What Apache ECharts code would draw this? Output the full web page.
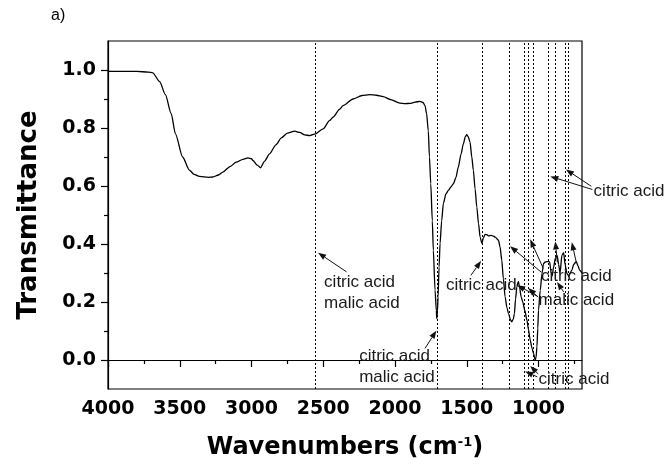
<!DOCTYPE html>
<html><head><meta charset="utf-8">
<script src="https://cdn.jsdelivr.net/npm/echarts@6/dist/echarts.min.js"></script>
<style>html,body{margin:0;padding:0;background:#fff}#c{width:664px;height:472px}</style>
</head><body><div id="c"></div>
<script>
// ---- data ----
const wavenumbers = [4000,3800,3720,3688,3640,3600,3560,3530,3480,3433,3400,3363,3300,3270,3230,3200,3150,3106,3060,3025,3000,2990,2960,2937,2910,2874,2830,2792,2750,2699,2665,2629,2594,2554,2501,2455,2432,2385,2362,2292,2230,2176,2130,2082,2030,1966,1930,1896,1860,1826,1805,1791,1780,1768,1760,1751,1740,1733,1721,1712,1709,1704,1700,1693,1686,1675,1663,1645,1628,1610,1593,1575,1559,1540,1524,1510,1500,1490,1477,1465,1454,1442,1430,1418,1407,1395,1385,1372,1360,1349,1330,1314,1302,1279,1268,1256,1245,1233,1220,1209,1195,1186,1175,1168,1160,1151,1145,1140,1132,1121,1110,1095,1081,1070,1058,1045,1035,1023,1017,1011,1005,1000,988,976,965,953,941,930,923,911,905,895,883,870,860,850,837,825,815,802,790,767,755,737,725,714,697];
const transmittance = [0.995,0.995,0.993,0.99,0.96,0.915,0.85,0.78,0.70,0.655,0.64,0.633,0.63,0.631,0.638,0.648,0.667,0.682,0.692,0.697,0.694,0.688,0.672,0.663,0.685,0.711,0.742,0.766,0.782,0.789,0.785,0.776,0.774,0.78,0.797,0.826,0.837,0.865,0.877,0.900,0.912,0.915,0.913,0.908,0.898,0.886,0.884,0.885,0.889,0.892,0.888,0.877,0.85,0.79,0.70,0.608,0.48,0.378,0.241,0.17,0.143,0.17,0.218,0.32,0.402,0.48,0.54,0.573,0.585,0.597,0.608,0.63,0.665,0.71,0.745,0.77,0.777,0.77,0.751,0.70,0.654,0.59,0.527,0.47,0.424,0.402,0.42,0.433,0.432,0.428,0.43,0.427,0.424,0.413,0.39,0.344,0.28,0.218,0.18,0.160,0.138,0.132,0.142,0.160,0.21,0.252,0.265,0.27,0.25,0.218,0.2,0.17,0.138,0.105,0.069,0.04,0.023,0.0,0.01,0.046,0.11,0.172,0.24,0.298,0.333,0.338,0.339,0.34,0.338,0.298,0.29,0.32,0.35,0.36,0.33,0.30,0.361,0.37,0.33,0.298,0.29,0.31,0.33,0.339,0.325,0.31,0.30];
const xTickLabels = [4000,3500,3000,2500,2000,1500,1000];
const xMinorTicks = [3750,3250,2750,2250,1750,1250,750];
const yTickLabels = [0,0.2,0.4,0.6,0.8,1.0];
const yMinorTicks = [0.1,0.3,0.5,0.7,0.9];
const bandPositions = [2554,1709,1395,1203,1100,1070,1039,930,885,814,790];
// annotation texts: [wavenumber (left edge), transmittance (middle), text]
const annotationTexts = [
  [2494,0.269,'citric acid'],[2494,0.197,'malic acid'],
  [2250,0.011,'citric acid'],[2250,-0.061,'malic acid'],
  [1645,0.258,'citric acid'],
  [616,0.582,'citric acid'],
  [983,0.287,'citric acid'],[1000,0.206,'malic acid'],
  [1000,-0.066,'citric acid']
];
// annotation arrows: [tail w, tail v, head w, head v]
const annotationArrows = [
  [2338,0.304,2536,0.370],
  [1791,0.040,1712,0.101],
  [1471,0.292,1400,0.342],
  [625,0.588,918,0.633],[632,0.599,809,0.657],
  [981,0.303,1198,0.392],[967,0.316,1058,0.416],[869,0.337,883,0.409],[737,0.337,768,0.406],
  [1009,0.220,1149,0.258],[1002,0.217,1072,0.248],[825,0.235,871,0.269],
  [1009,-0.058,1093,-0.040],[1002,-0.048,1058,-0.021]
];

const X_MIN = 697, X_MAX = 4000, Y_MIN = -0.1, Y_MAX = 1.1;
const labelFont = 'DejaVu Sans';
const chart = echarts.init(document.getElementById('c'), null, {renderer:'canvas'});
const seriesData = wavenumbers.map((w,i)=>[w, transmittance[i]]);

const baseX = {type:'value', min:X_MIN, max:X_MAX, inverse:true, position:'bottom', splitLine:{show:false}};
const baseY = {type:'value', min:Y_MIN, max:Y_MAX, position:'left', splitLine:{show:false}};

chart.setOption({
  animation:false,
  backgroundColor:'#fff',
  grid:{left:108, right:82, top:41, bottom:83, show:true, borderColor:'#000', borderWidth:1.2, containLabel:false},
  xAxis:[
    Object.assign({}, baseX, {
      axisLine:{show:true, lineStyle:{color:'#000', width:1.2}},
      axisTick:{show:true, inside:false, length:7, customValues:xTickLabels, lineStyle:{color:'#000', width:1.2}},
      axisLabel:{show:true, customValues:xTickLabels, margin:11, color:'#000', fontFamily:labelFont, fontWeight:'bold', fontSize:19,
        formatter:v=>String(Math.round(v))},
      name:'{a|Wavenumbers (cm}{s|-1}{a|)}', nameLocation:'middle', nameGap:47,
      nameTextStyle:{color:'#000', rich:{
        a:{fontFamily:labelFont, fontWeight:'bold', fontSize:24, color:'#000'},
        s:{fontFamily:labelFont, fontWeight:'bold', fontSize:13, color:'#000', verticalAlign:'top'}
      }}
    }),
    Object.assign({}, baseX, {
      axisLine:{show:false},
      axisTick:{show:true, inside:false, length:4, customValues:xMinorTicks, lineStyle:{color:'#000', width:1.2}},
      axisLabel:{show:false}
    })
  ],
  yAxis:[
    Object.assign({}, baseY, {
      axisLine:{show:true, lineStyle:{color:'#000', width:1.2}},
      axisTick:{show:true, inside:false, length:7, customValues:yTickLabels, lineStyle:{color:'#000', width:1.2}},
      axisLabel:{show:true, customValues:yTickLabels, margin:12, color:'#000', fontFamily:labelFont, fontWeight:'bold', fontSize:19,
        formatter:v=>v.toFixed(1)},
      name:'Transmittance', nameLocation:'middle', nameGap:66, nameRotate:90,
      nameTextStyle:{color:'#000', fontFamily:labelFont, fontWeight:'bold', fontSize:26}
    }),
    Object.assign({}, baseY, {
      axisLine:{show:false},
      axisTick:{show:true, inside:false, length:4, customValues:yMinorTicks, lineStyle:{color:'#000', width:1.2}},
      axisLabel:{show:false}
    })
  ],
  series:[{
    type:'line', xAxisIndex:0, yAxisIndex:0, data:seriesData, showSymbol:false, symbol:'none',
    smooth:0.25, smoothMonotone:'x',
    lineStyle:{color:'#000', width:1.3},
    markLine:{silent:true, symbol:['none','none'], label:{show:false},
      lineStyle:{color:'#000', width:1, type:[2,2]},
      data: bandPositions.map(w=>({xAxis:w}))
    }
  }]
});

// annotations positioned from data coordinates
const px = (w,v)=>chart.convertToPixel({gridIndex:0}, [w,v]);
const graphics = [];
graphics.push({type:'text', left:51, top:8, style:{text:'a)', font:'16px "Liberation Sans"', fill:'#000'}});
annotationTexts.forEach(([w,v,t])=>{
  const p = px(w,v);
  graphics.push({type:'text', x:p[0], y:p[1], z:10,
    style:{text:t, font:'17px "Liberation Sans"', fill:'#1a1a1a', textAlign:'left', textVerticalAlign:'middle'}});
});
annotationArrows.forEach(([w1,v1,w2,v2])=>{
  const a = px(w1,v1), b = px(w2,v2);
  const dx=b[0]-a[0], dy=b[1]-a[1], L=Math.hypot(dx,dy), ux=dx/L, uy=dy/L;
  const hl=8, hw=3;
  const bx=b[0]-ux*hl, by=b[1]-uy*hl;
  graphics.push({type:'line', z:10, shape:{x1:a[0],y1:a[1],x2:bx,y2:by}, style:{stroke:'#111', lineWidth:1}});
  graphics.push({type:'polygon', z:10, shape:{points:[[b[0],b[1]],[bx-uy*hw,by+ux*hw],[bx+uy*hw,by-ux*hw]]}, style:{fill:'#111'}});
});
chart.setOption({graphic:graphics});
</script>
</body></html>
